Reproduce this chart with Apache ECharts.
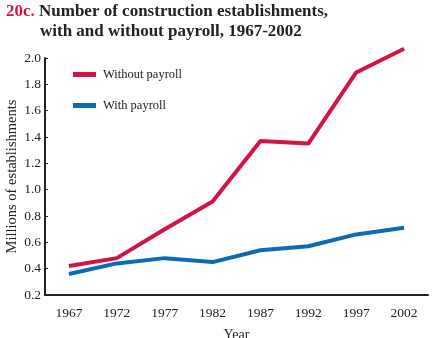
<!DOCTYPE html>
<html><head><meta charset="utf-8">
<script src="https://cdn.jsdelivr.net/npm/echarts@6/dist/echarts.min.js"></script>
<style>html,body{margin:0;padding:0;background:#fff}#c{width:437px;height:338px}</style>
</head><body><div id="c"></div>
<script>
const years = ['1967','1972','1977','1982','1987','1992','1997','2002'];
const withoutPayroll = [0.42, 0.48, 0.70, 0.91, 1.37, 1.35, 1.89, 2.07];
const withPayroll = [0.36, 0.44, 0.48, 0.45, 0.54, 0.57, 0.66, 0.71];
const yTicks = [0.2, 0.4, 0.6, 0.8, 1.0, 1.2, 1.4, 1.6, 1.8, 2.0];
const seriesNames = ['Without payroll', 'With payroll'];
const RED = '#d21444', BLUE = '#0b6bb6';
const font = '"Liberation Serif", "DejaVu Serif", serif';
const chart = echarts.init(document.getElementById('c'));
chart.setOption({
  animation: false,
  textStyle: {fontFamily: font},
  grid: {left: 45, right: 9, top: 58, bottom: 43, outerBoundsMode: 'none', containLabel: false},
  legend: {
    orient: 'vertical', left: 73, top: 68, padding: 0, itemWidth: 23, itemHeight: 5, itemGap: 18,
    icon: 'rect',
    textStyle: {fontFamily: font, fontSize: 12.5, color: '#222', padding: [0,0,0,2]},
    data: seriesNames
  },
  xAxis: {
    type: 'category', data: years, boundaryGap: true,
    axisLine: {lineStyle: {color: '#222', width: 2}},
    axisTick: {inside: true, length: 3, lineStyle: {color: '#222'}},
    axisLabel: {fontFamily: font, fontSize: 13.5, color: '#222', margin: 11},
    name: 'Year', nameLocation: 'middle', nameGap: 33, nameMoveOverlap: false,
    nameTextStyle: {fontFamily: font, fontSize: 14, color: '#222'}
  },
  yAxis: {
    type: 'value', min: 0.2, max: 2.0, interval: 0.2,
    splitLine: {show: false},
    axisLine: {show: true, lineStyle: {color: '#222', width: 2}},
    axisTick: {show: true, inside: true, length: 3, lineStyle: {color: '#222'}},
    axisLabel: {fontFamily: font, fontSize: 13.5, color: '#222', margin: 4,
      formatter: v => { const t = yTicks.find(x => Math.abs(x - v) < 1e-6); return (t !== undefined ? t : v).toFixed(1); }},
    name: 'Millions of establishments', nameLocation: 'middle', nameGap: 25, nameMoveOverlap: false,
    nameTextStyle: {fontFamily: font, fontSize: 14.5, color: '#222'}
  },
  series: [
    {name: seriesNames[0], type: 'line', data: withoutPayroll, clip: false, showSymbol: false,
     lineStyle: {color: RED, width: 4}, itemStyle: {color: RED}},
    {name: seriesNames[1], type: 'line', data: withPayroll, clip: false, showSymbol: false,
     lineStyle: {color: BLUE, width: 4}, itemStyle: {color: BLUE}}
  ],
  graphic: [
    {type: 'text', left: 6, top: 3, style: {text: '20c.', fill: '#d21444', font: 'bold 17px ' + font}},
    {type: 'text', left: 39, top: 3, style: {text: 'Number of construction establishments,', fill: '#222', font: 'bold 17px ' + font}},
    {type: 'text', left: 40, top: 23, style: {text: 'with and without payroll, 1967-2002', fill: '#222', font: 'bold 17px ' + font}}
  ]
});
</script></body></html>
